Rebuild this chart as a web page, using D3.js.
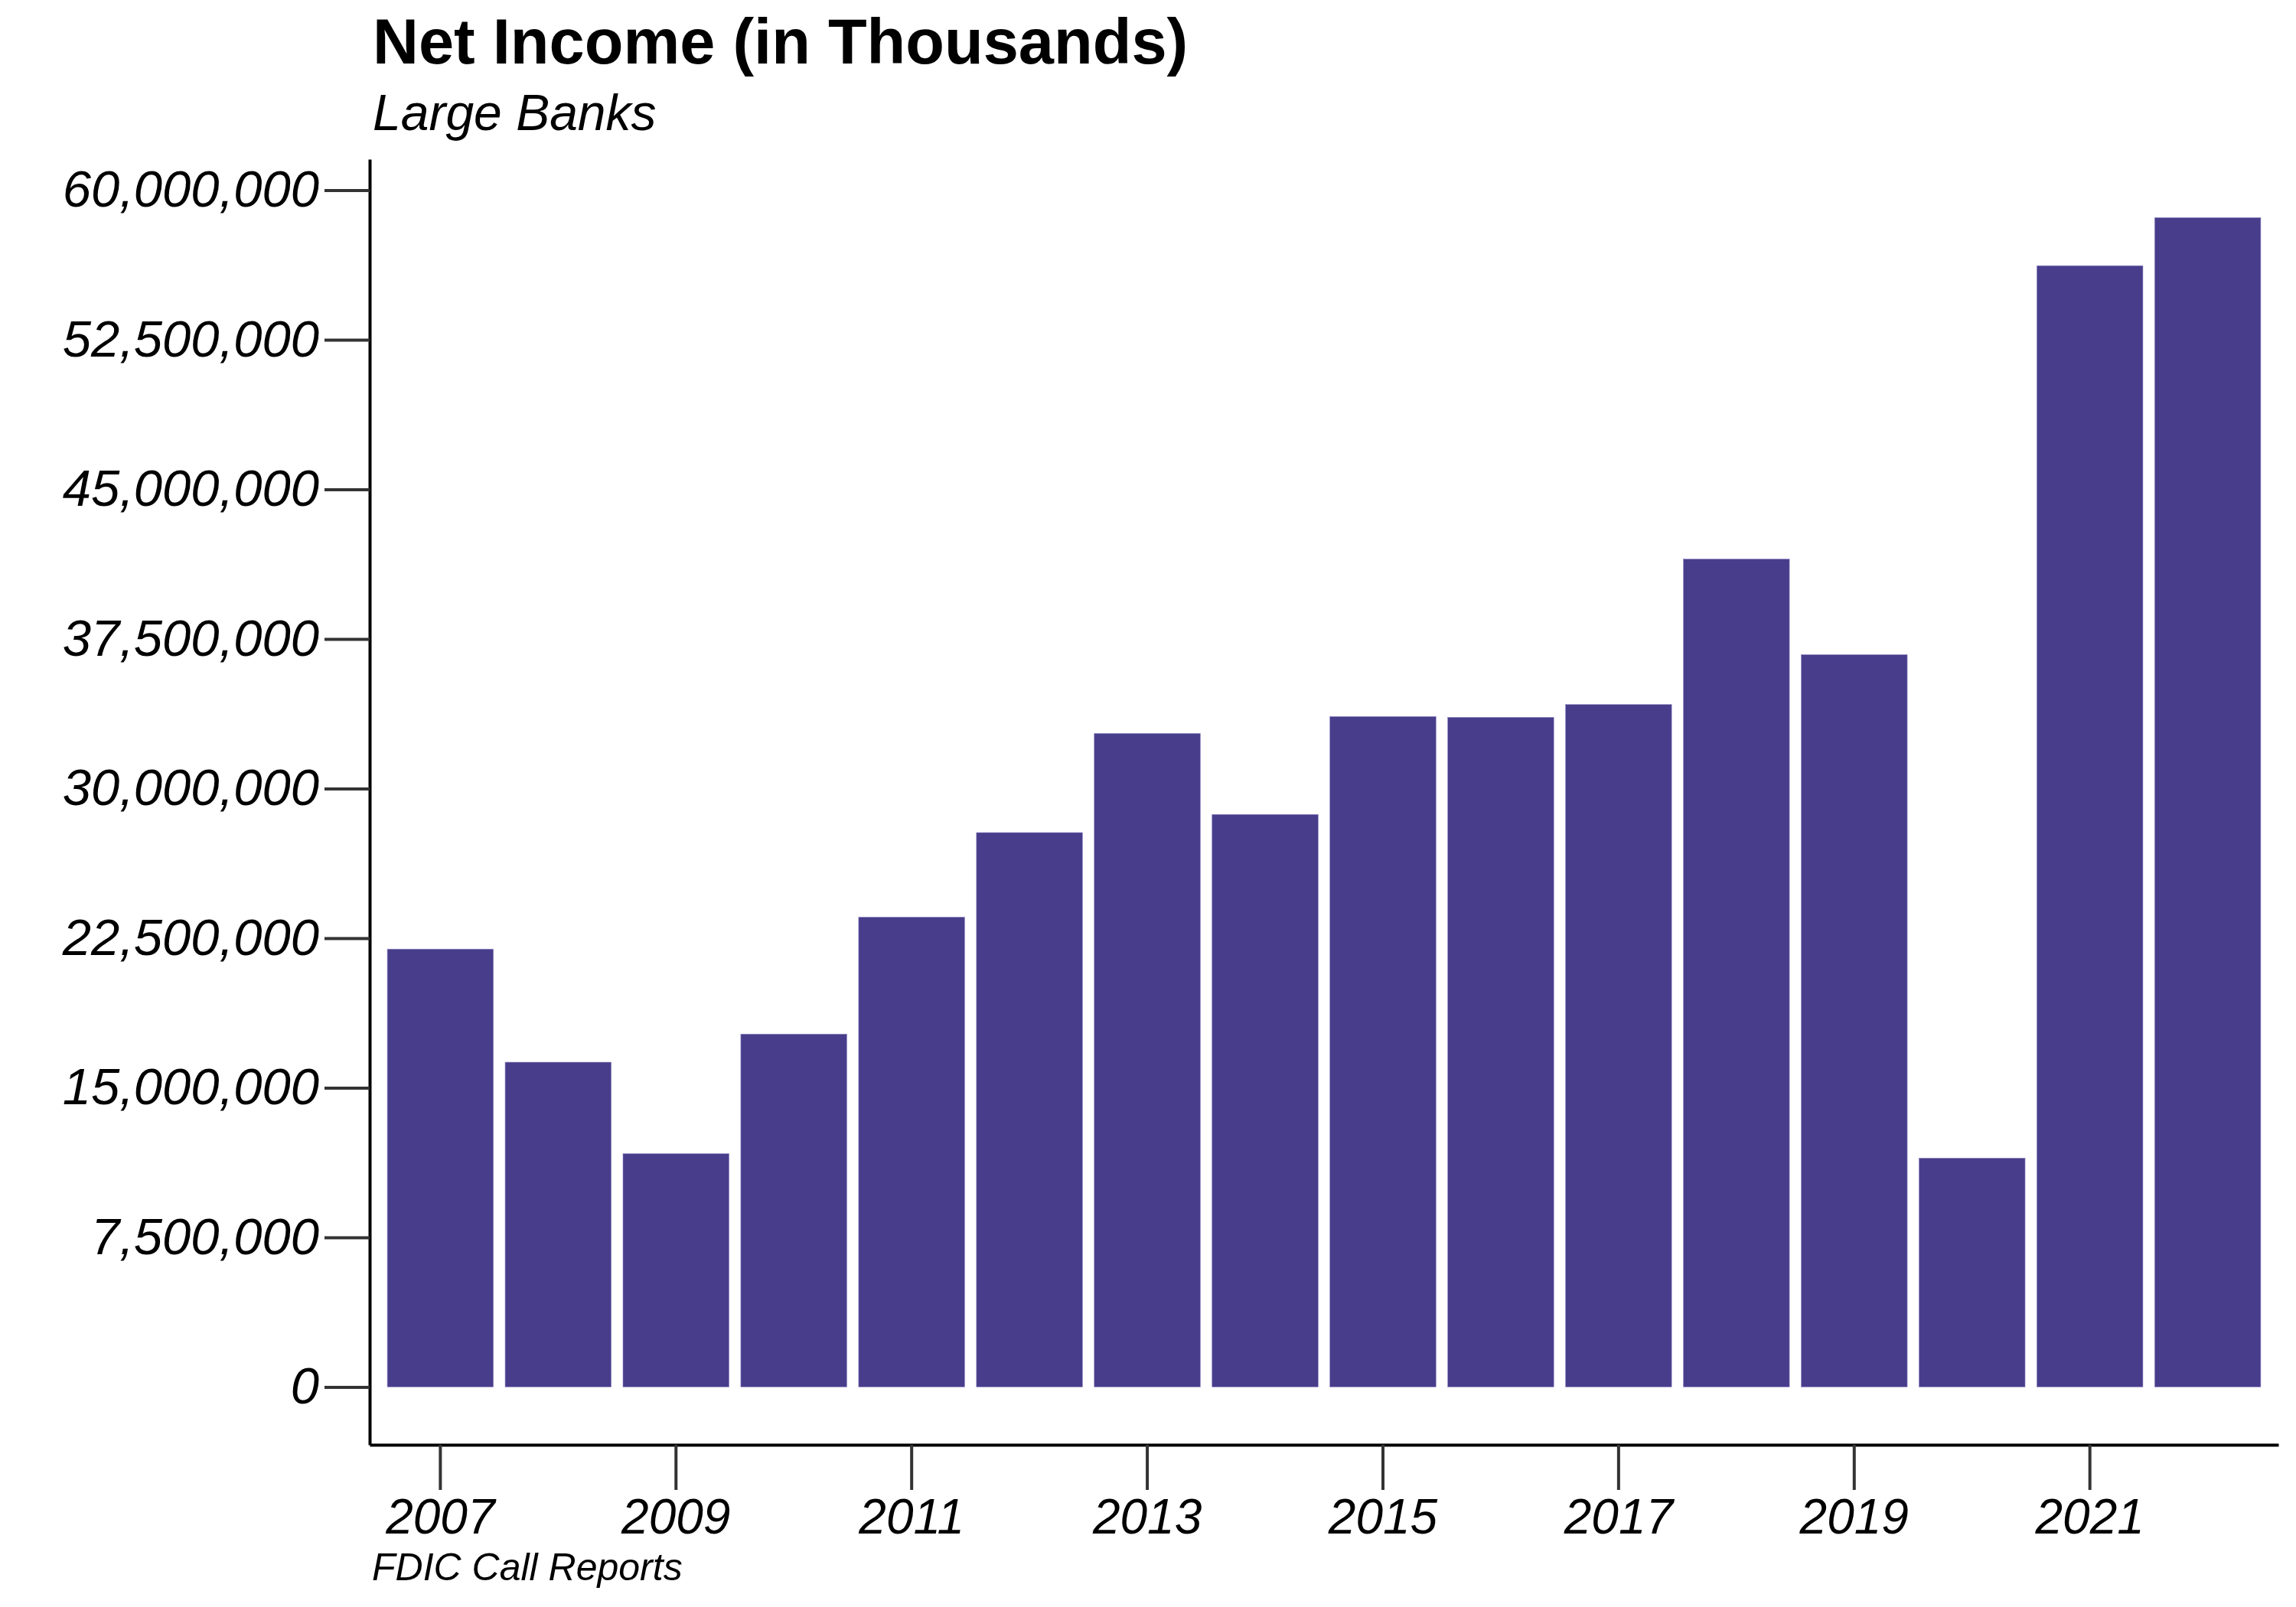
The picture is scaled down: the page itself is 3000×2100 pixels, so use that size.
<!DOCTYPE html>
<html>
<head>
<meta charset="utf-8">
<script src="https://cdn.jsdelivr.net/npm/d3@7"></script>
<style>
  html, body { margin: 0; padding: 0; background: #fff; }
  svg { display: block; font-family: "Liberation Sans", Arial, Helvetica, sans-serif; }
</style>
</head>
<body>
<svg id="chart" width="3000" height="2100"></svg>
<script>
const years = [2007, 2008, 2009, 2010, 2011, 2012, 2013, 2014, 2015, 2016, 2017, 2018, 2019, 2020, 2021, 2022];
const netIncome = [21950000, 16280000, 11690000, 17690000, 23550000, 27790000, 32760000, 28700000, 33610000, 33570000, 34210000, 41500000, 36710000, 11470000, 56210000, 58620000];
const yTicks = [0, 7500000, 15000000, 22500000, 30000000, 37500000, 45000000, 52500000, 60000000];
const xTicks = [2007, 2009, 2011, 2013, 2015, 2017, 2019, 2021];
const titleText = "Net Income (in Thousands)";
const subtitleText = "Large Banks";
const captionText = "FDIC Call Reports";

const data = years.map((y, i) => ({ year: y, value: netIncome[i] }));

const svg = d3.select("#chart");
const axisX0 = 483, axisX1 = 2977, axisYTop = 208, axisYBottom = 1888;

const x = d3.scaleBand()
  .domain(years)
  .range([axisX0, axisX1])
  .paddingInner(0.1)
  .paddingOuter(0.15);

const y = d3.scaleLinear()
  .domain([-2900000, 61550000])
  .range([axisYBottom, axisYTop]);

// bars
svg.append("g")
  .selectAll("rect")
  .data(data)
  .join("rect")
  .attr("x", d => x(d.year))
  .attr("width", x.bandwidth())
  .attr("y", d => y(d.value))
  .attr("height", d => y(0) - y(d.value))
  .attr("fill", "#483d8b")
  .attr("stroke", "#8f88c4")
  .attr("stroke-width", 0.6);

// y axis
const fmt = d3.format(",");
const gy = svg.append("g")
  .attr("transform", `translate(${axisX0},0)`)
  .call(d3.axisLeft(y).tickValues(yTicks).tickFormat(fmt).tickSize(59).tickSizeOuter(0).tickPadding(7));
gy.select(".domain").attr("stroke", "#000").attr("stroke-width", 4);
gy.selectAll(".tick line").attr("stroke", "#333").attr("stroke-width", 4);
gy.selectAll(".tick text")
  .attr("fill", "#000")
  .attr("font-size", 67)
  .attr("font-style", "italic")
  .attr("font-family", "Liberation Sans, Arial, sans-serif");

// x axis
const gx = svg.append("g")
  .attr("transform", `translate(0,${axisYBottom})`)
  .call(d3.axisBottom(x).tickValues(xTicks).tickSize(59).tickSizeOuter(0));
gx.select(".domain").attr("stroke", "#000").attr("stroke-width", 4);
gx.selectAll(".tick line").attr("stroke", "#333").attr("stroke-width", 4);
gx.selectAll(".tick text")
  .attr("fill", "#000")
  .attr("font-size", 64)
  .attr("font-style", "italic")
  .attr("font-family", "Liberation Sans, Arial, sans-serif")
  .attr("y", 116)
  .attr("dy", 0);

// titles
svg.append("text")
  .attr("x", 487).attr("y", 83)
  .attr("font-size", 83).attr("font-weight", "bold")
  .attr("fill", "#000")
  .text(titleText);

svg.append("text")
  .attr("x", 487).attr("y", 170)
  .attr("font-size", 66).attr("font-style", "italic")
  .attr("fill", "#000")
  .text(subtitleText);

svg.append("text")
  .attr("x", 486).attr("y", 2065)
  .attr("font-size", 50).attr("font-style", "italic")
  .attr("fill", "#000")
  .text(captionText);
</script>
</body>
</html>
